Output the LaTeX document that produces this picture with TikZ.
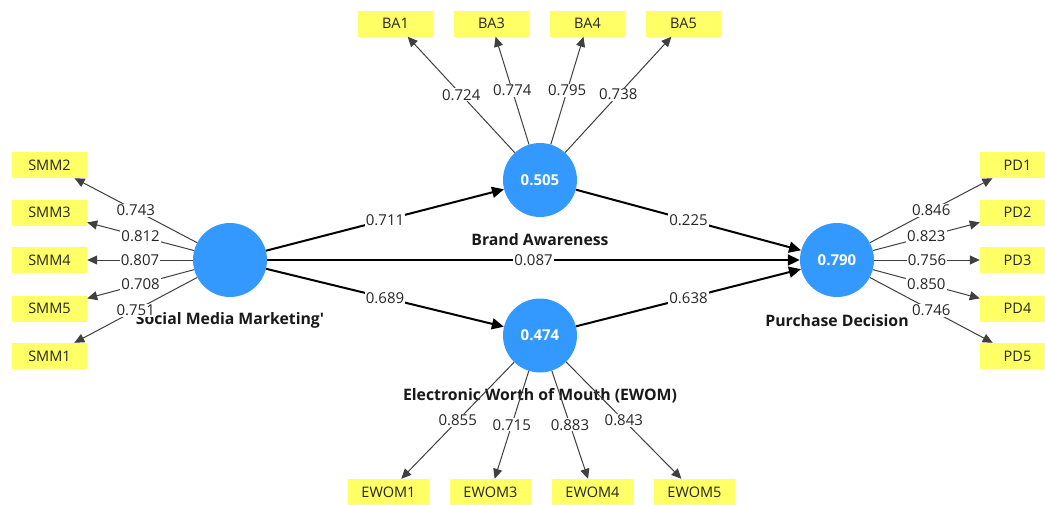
\documentclass[tikz,border=0pt]{standalone}
\usepackage{fontspec}
\setmainfont{Open Sans}
\usetikzlibrary{arrows.meta}
\definecolor{lvblue}{RGB}{51,153,255}
\definecolor{indyellow}{RGB}{255,255,102}
\begin{document}
\begin{tikzpicture}[x=1pt,y=-1pt,
  lv/.style={circle,fill=lvblue,minimum size=74pt,inner sep=0pt,text=white,font=\fontsize{15}{17}\selectfont\bfseries},
  ind/.style={rectangle,fill=indyellow,minimum width=75pt,minimum height=26pt,inner sep=0pt,font=\fontsize{14.5}{16}\selectfont,text=black!85},
  indw/.style={ind,minimum width=81pt},
  lvname/.style={font=\fontsize{15.8}{18}\selectfont\bfseries,text=black!90,inner sep=0pt},
  lbl/.style={fill=white,inner sep=1pt,font=\fontsize{15}{17}\selectfont,text=black!85},
  load/.style={draw=black!75,line width=1pt,-{Triangle[length=10pt,width=9pt]}},
  strpath/.style={draw=black,line width=2pt,-{Triangle[length=12pt,width=11pt]}}
]
\useasboundingbox (0,0) rectangle (1045,504);
\clip (0,0) rectangle (1045,504);
\fill[white] (0,0) rectangle (1045,504);

% construct names
\node[lvname] (nsmm) at (230,320) {Social Media Marketing\textquotesingle};
\node[lvname] (nba) at (540,240) {Brand Awareness};
\node[lvname] (new) at (540,396) {Electronic Worth of Mouth (EWOM)};
\node[lvname] (npd) at (837,321) {Purchase Decision};

% latent variables
\node[lv] (smm) at (230,260) {};
\node[lv] (ba) at (540,180) {0.505};
\node[lv] (ew) at (540,335.5) {0.474};
\node[lv] (pd) at (837,260) {0.790};

% indicators
\node[ind] (smm2) at (49.5,165) {SMM2};
\node[ind] (smm3) at (49.5,212.5) {SMM3};
\node[ind] (smm4) at (49.5,260) {SMM4};
\node[ind] (smm5) at (49.5,308.5) {SMM5};
\node[ind] (smm1) at (49.5,356) {SMM1};

\node[ind] (ba1) at (395.5,23.5) {BA1};
\node[ind] (ba3) at (491.5,23.5) {BA3};
\node[ind] (ba4) at (587.5,23.5) {BA4};
\node[ind] (ba5) at (683.5,23.5) {BA5};

\node[indw] (ew1) at (388.5,492) {EWOM1};
\node[indw] (ew3) at (490.5,492) {EWOM3};
\node[indw] (ew4) at (592.5,492) {EWOM4};
\node[indw] (ew5) at (694.5,492) {EWOM5};

\node[ind] (pd1) at (1017.5,165) {PD1};
\node[ind] (pd2) at (1017.5,212.5) {PD2};
\node[ind] (pd3) at (1017.5,260) {PD3};
\node[ind] (pd4) at (1017.5,308.5) {PD4};
\node[ind] (pd5) at (1017.5,356) {PD5};

% outer loadings
\draw[load] (smm) -- node[lbl] {0.743} (smm2);
\draw[load] (smm) -- node[lbl] {0.812} (smm3);
\draw[load] (smm) -- node[lbl] {0.807} (smm4);
\draw[load] (smm) -- node[lbl] {0.708} (smm5);
\draw[load] (smm) -- node[lbl] {0.751} (smm1);

\draw[load] (ba) -- node[lbl] {0.724} (ba1);
\draw[load] (ba) -- node[lbl] {0.774} (ba3);
\draw[load] (ba) -- node[lbl] {0.795} (ba4);
\draw[load] (ba) -- node[lbl] {0.738} (ba5);

\draw[load] (ew) -- node[lbl] {0.855} (ew1);
\draw[load] (ew) -- node[lbl] {0.715} (ew3);
\draw[load] (ew) -- node[lbl] {0.883} (ew4);
\draw[load] (ew) -- node[lbl] {0.843} (ew5);

\draw[load] (pd) -- node[lbl] {0.846} (pd1);
\draw[load] (pd) -- node[lbl] {0.823} (pd2);
\draw[load] (pd) -- node[lbl] {0.756} (pd3);
\draw[load] (pd) -- node[lbl] {0.850} (pd4);
\draw[load] (pd) -- node[lbl] {0.746} (pd5);

% structural paths
\draw[strpath] (smm) -- node[lbl] {0.711} (ba);
\draw[strpath] (ba) -- node[lbl] {0.225} (pd);
\draw[strpath] (smm) -- node[lbl] {0.087} (pd);
\draw[strpath] (smm) -- node[lbl] {0.689} (ew);
\draw[strpath] (ew) -- node[lbl] {0.638} (pd);
\end{tikzpicture}
\end{document}
